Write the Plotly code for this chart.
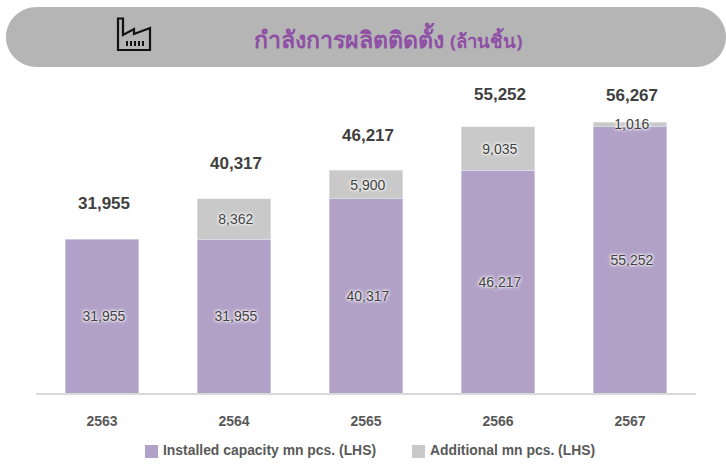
import plotly.graph_objects as go

years = ["2563", "2564", "2565", "2566", "2567"]
installed = [31955, 31955, 40317, 46217, 55252]
additional = [None, 8362, 5900, 9035, 1016]
totals = [31955, 40317, 46217, 55252, 56267]
series_names = ["Installed capacity mn pcs. (LHS)", "Additional mn pcs. (LHS)"]
series_colors = ["#B2A1C7", "#C9C9C9"]
total_label_shift = [36, 35, 35, 32, 27]

W, H = 726, 464
L, R, T, B = 36, 30, 80, 71
PW, PH = W - L - R, H - T - B
GREY = "#595959"
SANS = "Liberation Sans, Arial, sans-serif"


def px(x):
    return (x - L) / PW


def py(y):
    return (H - B - y) / PH


def path(cmds):
    out = []
    for c in cmds:
        if isinstance(c, str):
            out.append(c)
        else:
            out.append(f"{px(c[0]):.5f},{py(c[1]):.5f}")
    return " ".join(out)


pill = path(["M", (37, 7), "L", (696, 7), "C", (712, 7), (726, 20), (726, 37),
             "C", (726, 54), (712, 67), (696, 67), "L", (37, 67),
             "C", (20, 67), (6, 54), (6, 37), "C", (6, 20), (20, 7), (37, 7), "Z"])
factory = path(["M", (118, 18.5), "L", (123, 18.5), "L", (123, 35), "L", (134, 29), "L", (134, 34),
                "L", (150, 28), "L", (150, 50), "L", (118, 50), "Z"])
shapes = [
    dict(type="path", xref="paper", yref="paper", path=pill, fillcolor="#B5B5B5", line_width=0, layer="below"),
    dict(type="path", xref="paper", yref="paper", path=factory, fillcolor="rgba(0,0,0,0)",
         line=dict(color="#111111", width=2.2)),
]
for x in (127, 131, 135, 139, 143):
    shapes.append(dict(type="line", xref="paper", yref="paper", x0=px(x), x1=px(x), y0=py(41), y1=py(46),
                       line=dict(color="#111111", width=2)))

halo_font = dict(family=SANS, size=14, color="#404040",
                 shadow="0 0 4px #ffffff, 0 0 3px #ffffff, 0 0 2px #ffffff")
NB = "\u00a0"

fig = go.Figure()
fig.add_bar(name=series_names[0], x=years, y=installed, marker_color=series_colors[0],
            text=[f"{NB}{v:,}" for v in installed], textposition="inside", insidetextanchor="middle",
            textangle=0, textfont=halo_font, insidetextfont=halo_font, constraintext="none")
fig.add_bar(name=series_names[1], x=years, y=additional, marker_color=series_colors[1],
            text=[f"{NB}{v:,}" if v else "" for v in additional], textposition="inside",
            insidetextanchor="middle", textangle=0, textfont=halo_font, insidetextfont=halo_font,
            constraintext="none")

annotations = [
    dict(x=i, y=t, xref="x", yref="y", text=f"<b>{t:,}</b>", showarrow=False, xshift=2, yshift=s, yanchor="middle",
         font=dict(family=SANS, size=17, color="#404040"))
    for i, (t, s) in enumerate(zip(totals, total_label_shift))
]
annotations.append(dict(
    xref="paper", yref="paper", x=px(388), y=py(38), showarrow=False, xanchor="center", yanchor="middle",
    text='<b>กำลังการผลิตติดตั้ง</b> <span style="font-size:18.5px"><b>(ล้านชิ้น)</b></span>',
    font=dict(family="Noto Sans, Liberation Sans, sans-serif", size=23.2, color="#8E4FA5"),
))

# legend drawn by hand: square swatch hugging its text
for name, color, swatch_x in zip(series_names, series_colors, (145, 412)):
    shapes.append(dict(type="rect", xref="paper", yref="paper", x0=px(swatch_x), x1=px(swatch_x + 13),
                       y0=py(458), y1=py(445), fillcolor=color, line_width=0))
    annotations.append(dict(xref="paper", yref="paper", x=px(swatch_x + 16), y=py(450), showarrow=False,
                            xanchor="left", yanchor="middle", text=f"<b>{name}</b>",
                            font=dict(family=SANS, size=13.9, color=GREY)))

fig.update_layout(
    width=W, height=H, margin=dict(l=L, r=R, t=T, b=B, autoexpand=False),
    barmode="stack", bargap=0.44, plot_bgcolor="white", paper_bgcolor="white",
    shapes=shapes, annotations=annotations, showlegend=False,
    xaxis=dict(type="category", range=[-0.5, 4.5], showline=True, linecolor="#D9D9D9", linewidth=2,
               ticks="outside", ticklen=14, tickcolor="rgba(0,0,0,0)", showgrid=False,
               tickfont=dict(family=SANS, size=14, color=GREY, weight="bold")),
    yaxis=dict(visible=False, range=[0, 65000], showgrid=False),
    font=dict(family=SANS),
)
fig.write_html("out.html", config={"displayModeBar": False},
               post_script="document.body.style.margin='0';document.body.style.overflow='hidden';")
